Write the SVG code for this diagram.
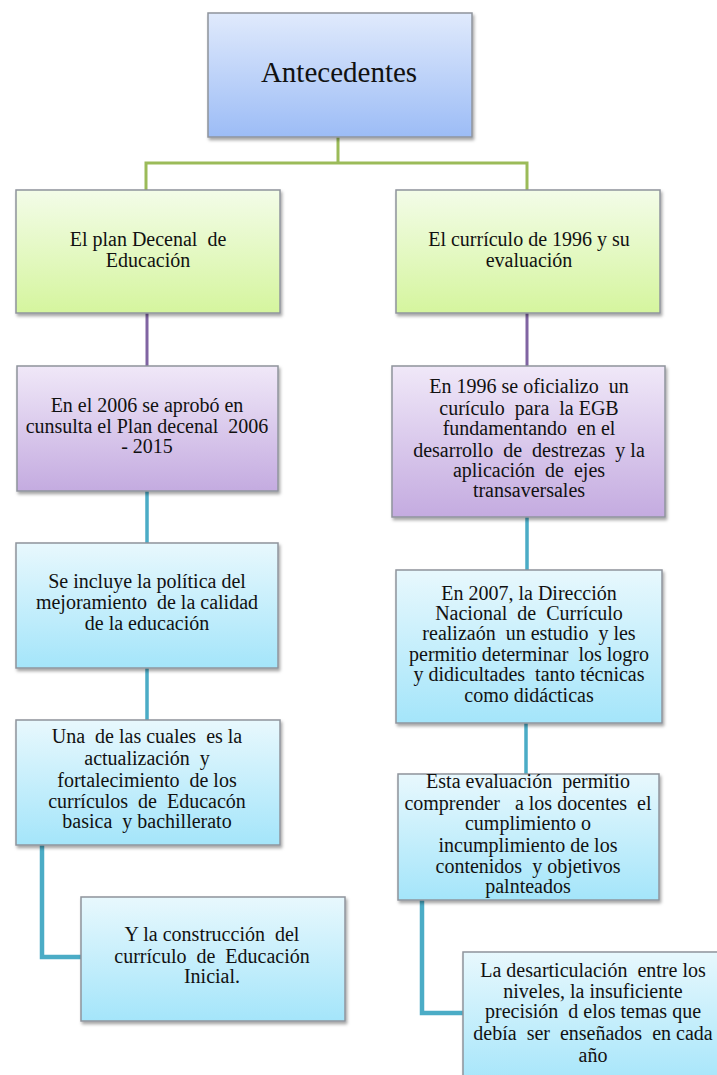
<svg xmlns="http://www.w3.org/2000/svg" width="717" height="1075" viewBox="0 0 717 1075" font-family="'Liberation Serif', 'Times New Roman', serif">
<defs>
<linearGradient id="gBlue" x1="0" y1="0" x2="0" y2="1"><stop offset="0" stop-color="#e0eafc"/><stop offset="1" stop-color="#9cbcf6"/></linearGradient>
<linearGradient id="gGreen" x1="0" y1="0" x2="0" y2="1"><stop offset="0" stop-color="#f3fce8"/><stop offset="1" stop-color="#d5f59e"/></linearGradient>
<linearGradient id="gPurple" x1="0" y1="0" x2="0" y2="1"><stop offset="0" stop-color="#f0e8f8"/><stop offset="1" stop-color="#c4abe0"/></linearGradient>
<linearGradient id="gCyan" x1="0" y1="0" x2="0" y2="1"><stop offset="0" stop-color="#e8f8fd"/><stop offset="1" stop-color="#a4e5fa"/></linearGradient>
<filter id="sh" x="-10%" y="-10%" width="120%" height="130%"><feDropShadow dx="1.5" dy="2.5" stdDeviation="1.5" flood-color="#000" flood-opacity="0.35"/></filter>
</defs>
<style>
.box{stroke:#8f949c;stroke-width:1.5;filter:url(#sh)}
text{font-family:'Liberation Serif','Times New Roman',serif;font-size:20px;fill:#111;text-anchor:middle;white-space:pre}
.big{font-size:29px}
.lg{fill:none;stroke:#9bbb59;stroke-width:3}
.lp{fill:none;stroke:#8064a2;stroke-width:3}
.lc{fill:none;stroke:#4bacc6;stroke-width:3.5}
.le{fill:none;stroke:#4bacc6;stroke-width:4.5}
</style>
<g id="connectors">
<path class="lg" d="M338 137 V163 M146 190 V163 H527 V190"/>
<path class="lp" d="M147 313 V366 M527 313 V366"/>
<path class="lc" d="M147 491 V543 M527 517 V570"/>
<path class="lc" d="M147 668 V720 M526 723 V774"/>
<path class="le" d="M42 845 V957 H81"/>
<path class="le" d="M422 900 V1013 H463"/>
</g>
<g id="n0"><rect class="box" x="208" y="13" width="264" height="124" fill="url(#gBlue)"/><text class="big" x="339" y="82">Antecedentes</text></g>
<g id="n1"><rect class="box" x="16" y="190" width="264" height="123" fill="url(#gGreen)"/><text x="148" y="246">El plan Decenal  de</text><text x="148" y="267">Educación</text></g>
<g id="n2"><rect class="box" x="396" y="190" width="264" height="123" fill="url(#gGreen)"/><text x="529" y="246">El currículo de 1996 y su</text><text x="529" y="267">evaluación</text></g>
<g id="n3"><rect class="box" x="17" y="366" width="261" height="125" fill="url(#gPurple)"/><text x="147" y="412">En el 2006 se aprobó en</text><text x="147" y="433">cunsulta el Plan decenal  2006</text><text x="147" y="453">- 2015</text></g>
<g id="n4"><rect class="box" x="392" y="366" width="273" height="151" fill="url(#gPurple)"/><text x="529" y="393">En 1996 se oficializo  un</text><text x="529" y="415">curículo  para  la EGB</text><text x="529" y="435">fundamentando  en el</text><text x="529" y="457">desarrollo  de  destrezas  y la</text><text x="529" y="477">aplicación  de  ejes</text><text x="529" y="497">transaversales</text></g>
<g id="n5"><rect class="box" x="16" y="543" width="262" height="125" fill="url(#gCyan)"/><text x="147" y="588">Se incluye la política del</text><text x="147" y="609">mejoramiento  de la calidad</text><text x="147" y="630">de la educación</text></g>
<g id="n6"><rect class="box" x="16" y="720" width="264" height="125" fill="url(#gCyan)"/><text x="147" y="743">Una  de las cuales  es la</text><text x="147" y="765">actualización  y</text><text x="147" y="787">fortalecimiento  de los</text><text x="147" y="808">currículos  de  Educacón</text><text x="147" y="828">basica  y bachillerato</text></g>
<g id="n7"><rect class="box" x="81" y="897" width="264" height="124" fill="url(#gCyan)"/><text x="212" y="941">Y la construcción  del</text><text x="212" y="963">currículo  de  Educación</text><text x="212" y="983">Inicial.</text></g>
<g id="n8"><rect class="box" x="396" y="570" width="266" height="153" fill="url(#gCyan)"/><text x="529" y="600">En 2007, la Dirección</text><text x="529" y="620">Nacional  de  Currículo</text><text x="529" y="640">realizaón  un estudio  y les</text><text x="529" y="661">permitio determinar  los logro</text><text x="529" y="681">y didicultades  tanto técnicas</text><text x="529" y="702">como didácticas</text></g>
<g id="n9"><rect class="box" x="398" y="774" width="261" height="126" fill="url(#gCyan)"/><text x="528" y="788">Esta evaluación  permitio</text><text x="528" y="810">comprender   a los docentes  el</text><text x="528" y="830">cumplimiento o</text><text x="528" y="852">incumplimiento de los</text><text x="528" y="873">contenidos  y objetivos</text><text x="528" y="893">palnteados</text></g>
<g id="n10"><rect class="box" x="463" y="952" width="262" height="135" fill="url(#gCyan)"/><text x="593" y="977">La desarticulación  entre los</text><text x="593" y="998">niveles, la insuficiente</text><text x="593" y="1018">precisión  d elos temas que</text><text x="593" y="1040">debía  ser  enseñados  en cada</text><text x="593" y="1062">año</text></g>
</svg>
